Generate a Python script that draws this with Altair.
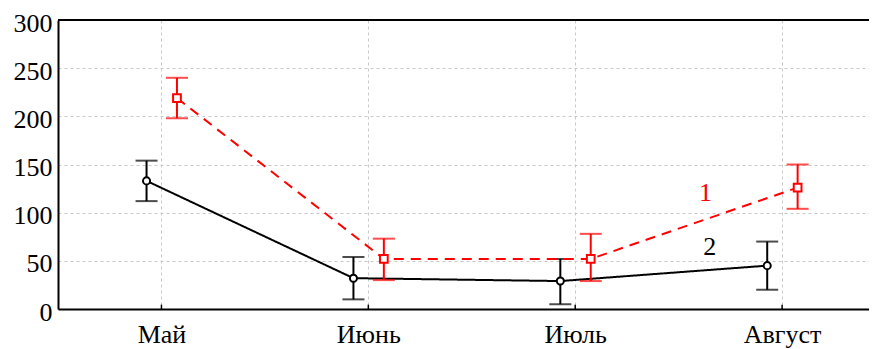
import json
import altair as alt
import pandas as pd

months = ["Май", "Июнь", "Июль", "Август"]
s1_mean = [219, 52, 52, 126]
s1_hi = [240, 73, 78, 150]
s1_lo = [198, 30, 29, 104]
s2_mean = [133, 32, 29, 45]
s2_hi = [154, 54, 52, 70]
s2_lo = [112, 10, 5, 20]
series_labels = ["1", "2"]
label_pos = [(2.63, 120), (2.65, 64)]

rows = []
for i in range(4):
    rows.append(dict(series="1", x=i + 0.075, mean=s1_mean[i], lo=s1_lo[i], hi=s1_hi[i]))
    rows.append(dict(series="2", x=i - 0.072, mean=s2_mean[i], lo=s2_lo[i], hi=s2_hi[i]))
df = pd.DataFrame(rows)
d1 = df[df.series == "1"]
d2 = df[df.series == "2"]

lab = pd.DataFrame({"t": series_labels, "x": [p[0] for p in label_pos],
                    "y": [p[1] for p in label_pos], "c": ["red", "black"]})
ticks = pd.DataFrame({"x": list(range(4)), "y0": [0] * 4, "y1": [4.5] * 4})

FONT = "'Liberation Serif', 'Times New Roman', Tinos, 'DejaVu Serif', serif"
label_expr = json.dumps(months) + "[datum.value]"

xs = alt.Scale(domain=[-0.5, 3.42], nice=False, zero=False)
ys = alt.Scale(domain=[0, 300], nice=False)

xaxis = alt.Axis(values=[0, 1, 2, 3], labelExpr=label_expr, title=None, labelPadding=12)
yaxis = alt.Axis(values=[0, 50, 100, 150, 200, 250, 300], title=None, labelPadding=6,
                 labelOffset=3)

base_axes = alt.Chart(ticks).mark_rule(color="black", strokeWidth=1.5).encode(
    x=alt.X("x:Q", scale=xs, axis=xaxis),
    y=alt.Y("y0:Q", scale=ys, axis=yaxis),
    y2="y1:Q",
)

def series_layers(d, color, dash, shape, size):
    line = alt.Chart(d).mark_line(color=color, strokeWidth=2, strokeDash=dash).encode(
        x=alt.X("x:Q", scale=xs), y=alt.Y("mean:Q", scale=ys))
    err = alt.Chart(d).mark_rule(color=color, strokeWidth=2).encode(
        x=alt.X("x:Q", scale=xs), y=alt.Y("lo:Q", scale=ys), y2="hi:Q")
    caps_hi = alt.Chart(d).mark_tick(color=color, thickness=2, size=22, orient="horizontal").encode(
        x=alt.X("x:Q", scale=xs), y=alt.Y("hi:Q", scale=ys))
    caps_lo = alt.Chart(d).mark_tick(color=color, thickness=2, size=22, orient="horizontal").encode(
        x=alt.X("x:Q", scale=xs), y=alt.Y("lo:Q", scale=ys))
    pts = alt.Chart(d).mark_point(shape=shape, size=size, filled=True, fill="white",
                                  stroke=color, strokeWidth=2, opacity=1).encode(
        x=alt.X("x:Q", scale=xs), y=alt.Y("mean:Q", scale=ys))
    return [line, err, caps_hi, caps_lo, pts]

texts = alt.Chart(lab).mark_text(font=FONT, fontSize=26, baseline="middle").encode(
    x=alt.X("x:Q", scale=xs), y=alt.Y("y:Q", scale=ys),
    text="t:N", color=alt.Color("c:N", scale=None))

top = alt.Chart(lab).mark_rule(color="black", strokeWidth=2).encode(
    x=alt.value(0), x2=alt.value(811), y=alt.value(0))

chart = alt.layer(
    base_axes,
    *series_layers(d2, "black", [1, 0], "circle", 50),
    *series_layers(d1, "red", [10, 7], "square", 60),
    texts, top,
).properties(
    width=811, height=289,
    autosize=alt.AutoSizeParams(type="none"),
    padding={"left": 50, "top": 12, "right": 0, "bottom": 40},
).configure_view(stroke=None).configure_axis(
    labelFont=FONT, labelFontSize=26, labelColor="black",
    grid=True, gridDash=[3, 3], gridColor="#c8c8c8", gridWidth=1,
    ticks=False, domainColor="black", domainWidth=2,
)

chart.save("out.html", embed_options={"renderer": "svg", "actions": False})
